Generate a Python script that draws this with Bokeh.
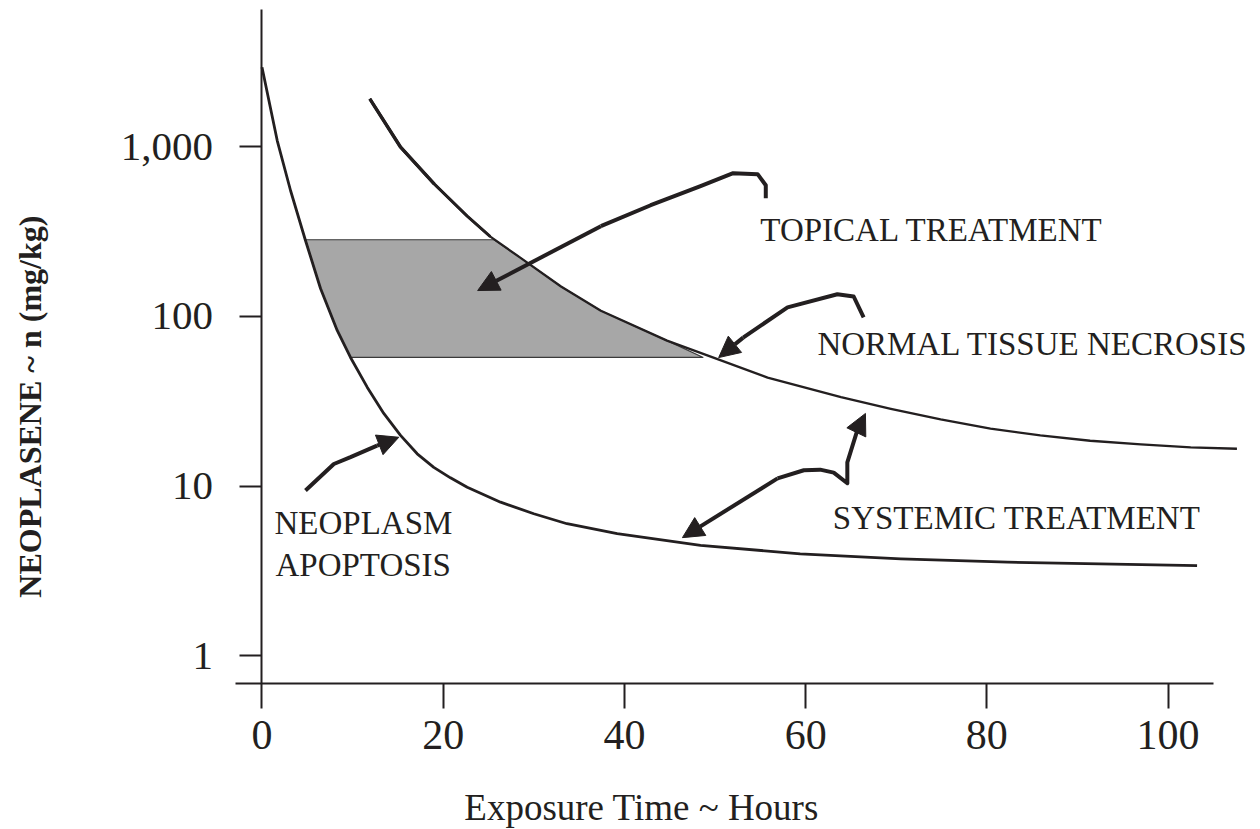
import numpy as np
from bokeh.plotting import figure
from bokeh.models import Range1d, FixedTicker, NumeralTickFormatter, Label, Arrow, NormalHead
from bokeh.embed import file_html
from bokeh.resources import INLINE

# ---------------- data ----------------
x_ticks = [0, 20, 40, 60, 80, 100]
y_ticks = [1, 10, 100, 1000]

# lower curve (neoplasm apoptosis / systemic treatment)
apoptosis_x = [0, 1.68, 3.15, 4.80, 6.46, 8.30, 9.77, 11.61, 13.44, 15.29, 17.13, 18.96,
               20.8, 22.65, 26.33, 30.0, 33.66, 39.2, 48.4, 59.4, 70.5, 82.3, 103.2]
apoptosis_y = [2940, 1087, 552, 280, 146, 82.6, 57.3, 38.3, 26.8, 19.9, 15.5, 12.9,
               11.19, 9.85, 8.04, 6.87, 6.0, 5.24, 4.47, 3.99, 3.73, 3.56, 3.40]

# upper curve (normal tissue necrosis)
necrosis_x = [11.9, 15.3, 19.0, 22.65, 25.2, 28.5, 33.0, 37.4, 44.7, 50.2, 55.8, 63.9, 69.4,
              74.9, 80.4, 85.9, 91.4, 97.0, 102.5, 107.6]
necrosis_y = [1915, 993, 604, 390, 295, 222, 150, 108, 72.0, 56.2, 43.6, 33.4, 28.5,
              24.7, 21.8, 19.9, 18.5, 17.6, 16.9, 16.6]

# shaded therapeutic window (topical treatment)
window_x = [4.80, 25.6, 28.5, 33.0, 37.4, 44.7, 48.7, 9.77, 8.30, 6.46, 4.80]
window_y = [283, 283, 222, 150, 108, 72.0, 57.3, 57.3, 82.6, 146, 283]

# annotation arrows (shaft paths, then head start -> tip)
topical_path_x = [55.6, 55.6, 54.7, 52.0, 48.4, 42.9, 37.4]
topical_path_y = [497, 593, 689, 698, 585, 452, 340]
topical_head = (37.4, 340, 23.8, 142)

necrosis_path_x = [66.4, 65.3, 63.5, 58.0, 53.1]
necrosis_path_y = [98.6, 131, 135, 113, 75]
necrosis_head = (53.1, 75, 50.4, 57.2)

systemic_path_x = [56.9, 59.8, 61.6, 63.1, 64.6, 64.6, 65.7]
systemic_path_y = [11.1, 12.4, 12.5, 12.0, 10.4, 13.8, 21.3]
systemic_head_low = (56.9, 11.1, 46.4, 4.97)
systemic_head_up = (65.7, 21.3, 66.6, 26.8)

neoplasm_path_x = [4.8, 7.93, 9.77, 12.7]
neoplasm_path_y = [9.42, 13.5, 14.8, 17.3]
neoplasm_head = (12.7, 17.3, 15.1, 19.4)

INK = "#231f20"
SERIF = "Liberation Serif"

X_AXIS_BOUNDS = (-2.925, 105.0)
Y_AXIS_BOUNDS = (0.6866, 6430)

p = figure(width=1260, height=829, y_axis_type="log",
           x_range=Range1d(-28.86, 110.2), y_range=Range1d(0.09471, 7270),
           output_backend="svg", toolbar_location=None,
           min_border_left=0, min_border_right=0, min_border_top=0, min_border_bottom=0)

p.grid.visible = False
p.outline_line_color = None
p.background_fill_color = "white"
p.border_fill_color = "white"

# axes, drawn at the origin inside the frame
p.yaxis.fixed_location = 0
p.yaxis.bounds = Y_AXIS_BOUNDS
p.yaxis.ticker = FixedTicker(ticks=y_ticks)
p.yaxis.formatter = NumeralTickFormatter(format="0,0")
p.xaxis.fixed_location = Y_AXIS_BOUNDS[0]
p.xaxis.bounds = X_AXIS_BOUNDS
p.xaxis.ticker = FixedTicker(ticks=x_ticks)
for ax in (p.xaxis, p.yaxis):
    ax.axis_line_color = INK
    ax.axis_line_width = 2
    ax.major_tick_line_color = INK
    ax.major_tick_line_width = 2
    ax.major_tick_in = 0
    ax.minor_tick_in = 0
    ax.minor_tick_out = 0
    ax.major_label_text_font = SERIF
    ax.major_label_text_color = INK
p.yaxis.major_label_text_font_size = "41px"
p.xaxis.major_label_text_font_size = "42px"
p.yaxis.major_tick_out = 22
p.yaxis.major_label_standoff = 27
p.xaxis.major_tick_out = 25
p.xaxis.major_label_standoff = 12

# shaded window
p.patch(window_x, window_y, fill_color="#a7a7a7", line_color="#3a3a3a", line_width=1.2)

# curves
p.line(apoptosis_x, apoptosis_y, line_width=2.8, line_color=INK, line_join="round")
p.line(necrosis_x, necrosis_y, line_width=2.3, line_color=INK, line_join="round")
p.line(necrosis_x[:5], necrosis_y[:5], line_width=2.9, line_color=INK, line_join="round")
p.line(necrosis_x[:3], necrosis_y[:3], line_width=3.4, line_color=INK, line_join="round")

# arrows
def add_head(head):
    xs, ys, xe, ye = head
    p.add_layout(Arrow(x_start=xs, y_start=ys, x_end=xe, y_end=ye,
                       line_color=INK, line_width=4,
                       end=NormalHead(size=21, fill_color=INK, line_color=INK, line_width=1)))

def add_arrow(px, py, head):
    p.line(px, py, line_width=4, line_color=INK, line_join="round")
    add_head(head)

add_arrow(topical_path_x, topical_path_y, topical_head)
add_arrow(necrosis_path_x, necrosis_path_y, necrosis_head)
add_arrow(systemic_path_x, systemic_path_y, systemic_head_low)
add_head(systemic_head_up)
add_arrow(neoplasm_path_x, neoplasm_path_y, neoplasm_head)

# texts (anchored at the bottom of their text box)
def add_text(x, y, t, size="33px", baseline="bottom", **kw):
    p.add_layout(Label(x=x, y=y, text=t, text_font=SERIF, text_font_size=size,
                       text_color=INK, text_baseline=baseline, **kw))

add_text(55.0, 251.3, "TOPICAL TREATMENT")
add_text(61.3, 53.5, "NORMAL TISSUE NECROSIS")
add_text(63.0, 5.05, "SYSTEMIC TREATMENT")
add_text(1.38, 4.72, "NEOPLASM")
add_text(1.49, 2.70, "APOPTOSIS")
add_text(41.9, 0.0965, "Exposure Time ~ Hours", size="37px", text_align="center")
add_text(-25.55, 29.4, "NEOPLASENE ~ n (mg/kg)", size="32px", baseline="middle",
         text_align="center", angle=np.pi / 2, text_font_style="bold")

open("out.html", "w").write(file_html(p, INLINE))
